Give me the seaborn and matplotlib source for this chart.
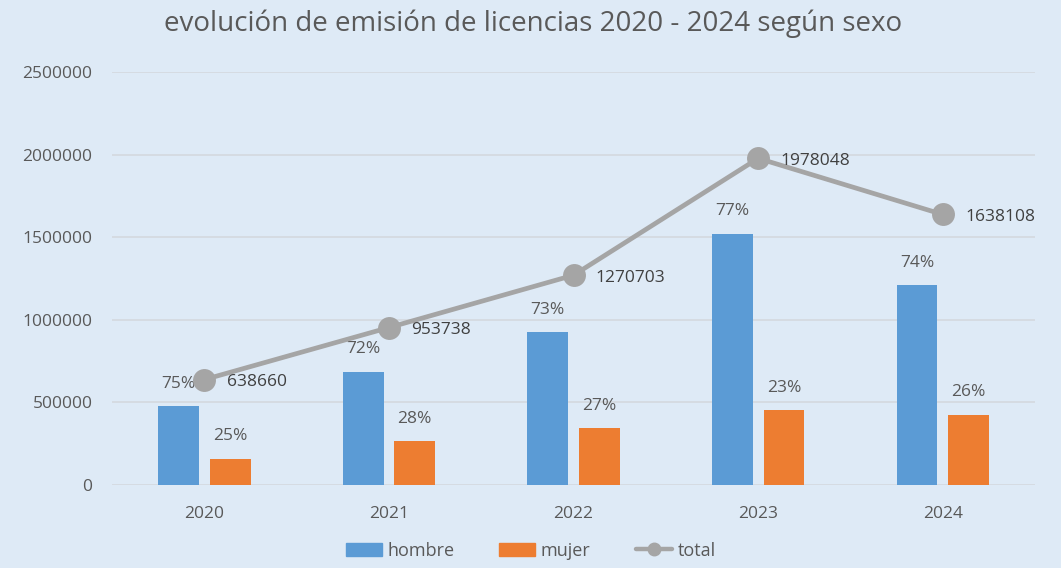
import numpy as np
import pandas as pd
import matplotlib
matplotlib.use('Agg')
import matplotlib.pyplot as plt
import seaborn as sns
from matplotlib.patches import Patch
from matplotlib.lines import Line2D
from matplotlib.ticker import FuncFormatter

# Data
years = ['2020', '2021', '2022', '2023', '2024']
hombre = [479000, 687000, 928000, 1523000, 1212000]
mujer = [160000, 267000, 343000, 455000, 426000]
total = [638660, 953738, 1270703, 1978048, 1638108]
pct_hombre = ['75%', '72%', '73%', '77%', '74%']
pct_mujer = ['25%', '28%', '27%', '23%', '26%']

bg = '#DEEAF6'
blue = '#5B9BD5'
orange = '#ED7D31'
gray = '#A5A5A5'
txt = '#595959'

sns.set_style('white')
plt.rcParams['font.family'] = ['Open Sans', 'DejaVu Sans']

df = pd.DataFrame({'year': years * 2,
                   'valor': hombre + mujer,
                   'sexo': ['hombre'] * 5 + ['mujer'] * 5})

fig = plt.figure(figsize=(10.61, 5.68), dpi=100, facecolor=bg)
ax = fig.add_axes([0.1056, 0.146, 0.87, 0.727])
ax.set_facecolor(bg)

sns.barplot(data=df, x='year', y='valor', hue='sexo', palette=[blue, orange],
            width=0.56, gap=0.21, ax=ax, legend=False, saturation=1,
            edgecolor='none', linewidth=0)
sns.lineplot(x=np.arange(len(years)), y=total, color=gray, linewidth=3.4,
             marker='o', markersize=16.5, markeredgewidth=0, ax=ax, zorder=5)

# labels
for i in range(len(years)):
    ax.annotate(pct_hombre[i], (i - 0.14, hombre[i]), xytext=(0, 16), textcoords='offset points',
                ha='center', va='center', fontsize=12.5, color=txt)
    ax.annotate(pct_mujer[i], (i + 0.14, mujer[i]), xytext=(0, 16), textcoords='offset points',
                ha='center', va='center', fontsize=12.5, color=txt)
    ax.annotate(str(total[i]), (i, total[i]), xytext=(16, -2), textcoords='offset points',
                ha='left', va='center', fontsize=12.5, color='#404040', zorder=6)

ax.set_ylim(0, 2500000)
ax.set_xlim(-0.5, 4.5)
ax.set_yticks(np.arange(0, 2500001, 500000))
ax.yaxis.set_major_formatter(FuncFormatter(lambda v, p: '%d' % v))
ax.yaxis.grid(True, color='#D4D9DE', linewidth=1.2)
ax.set_axisbelow(True)
for s in ax.spines.values():
    s.set_visible(False)
ax.tick_params(axis='both', length=0, labelsize=12.5, colors=txt)
ax.tick_params(axis='x', pad=15)
ax.tick_params(axis='y', pad=14)
ax.set_xlabel('')
ax.set_ylabel('')

fig.text(0.502, 0.958, 'evolución de emisión de licencias 2020 - 2024 según sexo',
         ha='center', va='center', fontsize=20, color=txt)

handles = [Patch(color=blue, label='hombre'),
           Patch(color=orange, label='mujer'),
           Line2D([0], [0], color=gray, linewidth=3.2, marker='o', markersize=9, label='total')]
fig.legend(handles=handles, loc='lower center', bbox_to_anchor=(0.5, -0.014), ncol=3,
           frameon=False, fontsize=13, labelcolor=txt, handlelength=2.0, handleheight=0.8,
           columnspacing=2.5, handletextpad=0.3)

fig.savefig('out.png', dpi=100, facecolor=bg)
